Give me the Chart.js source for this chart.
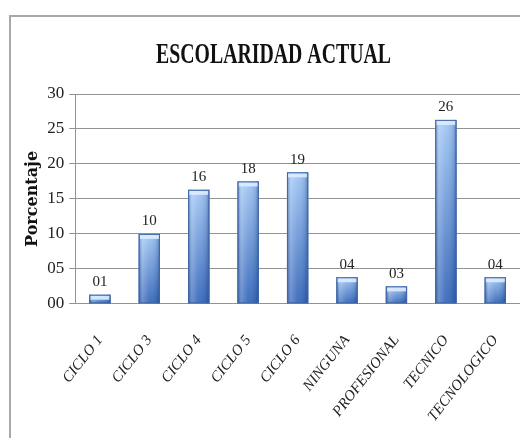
<!DOCTYPE html>
<html>
<head>
<meta charset="utf-8">
<script src="https://cdn.jsdelivr.net/npm/chart.js@4/dist/chart.umd.min.js"></script>
<style>
  html, body { margin: 0; padding: 0; background: #fff; overflow: hidden; }
  #frame { position: absolute; left: 9px; top: 15px; width: 600px; height: 500px; border-left: 2px solid #a8a8a8; border-top: 2px solid #a8a8a8; }
  #chart { position: absolute; left: 0; top: 0; }
</style>
</head>
<body>
<div id="frame"></div>
<canvas id="chart" width="547" height="438"></canvas>
<script>
const chartTitle = 'ESCOLARIDAD ACTUAL'
const yTitle = 'Porcentaje'
const categories = ['CICLO 1', 'CICLO 3', 'CICLO 4', 'CICLO 5', 'CICLO 6', 'NINGUNA', 'PROFESIONAL', 'TECNICO', 'TECNOLOGICO']
const values = [1.3, 10, 16.3, 17.5, 18.8, 3.8, 2.5, 26.3, 3.8]
const tickLabels = ['00', '05', '10', '15', '20', '25', '30']

const twoDigits = (v) => String(Math.round(v)).padStart(2, '0')

// condensed bold title, like the original
const titlePlugin = {
  id: 'condensedTitle',
  afterDraw(chart) {
    const ctx = chart.ctx
    ctx.save()
    ctx.font = 'bold 30px "Liberation Serif"'
    ctx.fillStyle = '#111'
    ctx.textAlign = 'center'
    ctx.textBaseline = 'alphabetic'
    ctx.translate(chart.width / 2, 63)
    ctx.scale(0.66, 1)
    ctx.fillText(chartTitle, 0, 0)
    ctx.restore()
  }
}

// shaded bars + value labels on top
const barShade = {
  id: 'barShade',
  afterDatasetsDraw(chart) {
    const ctx = chart.ctx
    const meta = chart.getDatasetMeta(0)
    ctx.save()
    meta.data.forEach((bar, i) => {
      const { x, y, base, width } = bar.getProps(['x', 'y', 'base', 'width'], true)
      const left = x - width / 2
      const h = base - y
      let g = ctx.createLinearGradient(0, y, 0, base)
      g.addColorStop(0, '#a3c8f5')
      g.addColorStop(1, '#3868ba')
      ctx.fillStyle = g
      ctx.fillRect(left, y, width, h)
      g = ctx.createLinearGradient(left, 0, left + width, 0)
      g.addColorStop(0, 'rgba(25,55,115,0.45)')
      g.addColorStop(0.18, 'rgba(255,255,255,0.25)')
      g.addColorStop(0.5, 'rgba(255,255,255,0.05)')
      g.addColorStop(0.85, 'rgba(25,55,115,0.15)')
      g.addColorStop(1, 'rgba(25,55,115,0.5)')
      ctx.fillStyle = g
      ctx.fillRect(left, y, width, h)
      ctx.fillStyle = 'rgba(225,238,255,0.85)'
      ctx.fillRect(left + 1, y + 1, width - 2, Math.min(4, h - 1))
      ctx.strokeStyle = '#3d68a6'
      ctx.lineWidth = 1
      ctx.strokeRect(left + 0.5, y + 0.5, width - 1, h - 1)

      ctx.font = '15px "Liberation Serif"'
      ctx.fillStyle = '#222'
      ctx.textAlign = 'center'
      ctx.textBaseline = 'bottom'
      ctx.fillText(twoDigits(values[i]), x, y - 5)
    })
    ctx.restore()
  }
}

const chart = new Chart(document.getElementById('chart'), {
  type: 'bar',
  data: {
    labels: categories,
    datasets: [{
      data: values,
      backgroundColor: '#5b8fd8',
      borderWidth: 0,
      categoryPercentage: 1,
      barPercentage: 0.43
    }]
  },
  options: {
    responsive: false,
    animation: false,
    layout: { padding: { top: 94, left: 23, right: 27, bottom: -15 } },
    plugins: {
      legend: { display: false },
      tooltip: { enabled: false }
    },
    scales: {
      x: {
        grid: { display: false, drawTicks: false },
        border: { color: '#939393', width: 1 },
        ticks: {
          autoSkip: false,
          minRotation: 52,
          maxRotation: 52,
          padding: 28,
          color: '#222',
          font: { family: '"Liberation Serif"', size: 15, style: 'italic' }
        }
      },
      y: {
        min: 0,
        max: 30,
        ticks: {
          stepSize: 5,
          padding: 5,
          color: '#222',
          font: { family: '"Liberation Serif"', size: 17 },
          callback: (v, i) => tickLabels[i]
        },
        grid: { color: '#939393', lineWidth: 1, tickLength: 6 },
        border: { color: '#939393', width: 1 },
        title: {
          display: true,
          text: yTitle,
          color: '#111',
          padding: 0,
          font: { family: '"DejaVu Serif"', size: 16, weight: 'bold' }
        }
      }
    }
  },
  plugins: [titlePlugin, barShade]
})
</script>
</body>
</html>
